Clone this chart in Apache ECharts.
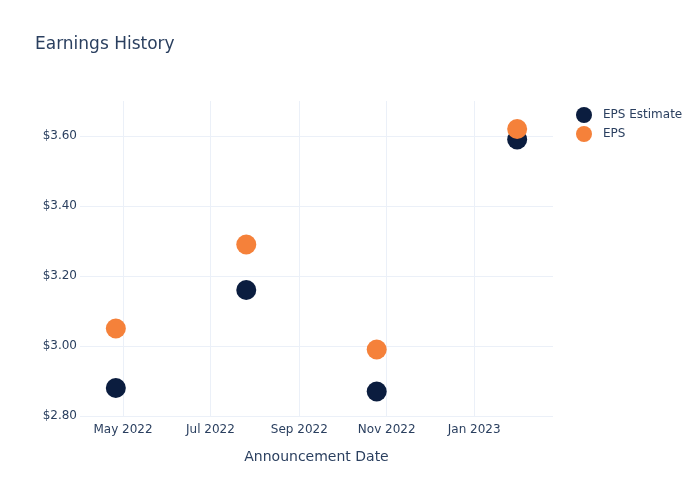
<!DOCTYPE html>
<html>
<head>
<meta charset="utf-8">
<script src="https://cdn.jsdelivr.net/npm/echarts@6/dist/echarts.min.js"></script>
<style>html,body{margin:0;padding:0;background:#fff}#c{width:700px;height:500px}</style>
</head>
<body>
<div id="c"></div>
<script>
const dates = ['2022-04-26', '2022-07-26', '2022-10-25', '2023-01-31'];
const epsEstimate = [2.88, 3.16, 2.87, 3.59];
const epsActual = [3.05, 3.29, 2.99, 3.62];
const xTickDates = ['2022-05-01', '2022-07-01', '2022-09-01', '2022-11-01', '2023-01-01'];
const yTicks = [2.8, 3.0, 3.2, 3.4, 3.6];
const monthNames = ['Jan','Feb','Mar','Apr','May','Jun','Jul','Aug','Sep','Oct','Nov','Dec'];

function ts(s) { const p = s.split('-').map(Number); return Date.UTC(p[0], p[1] - 1, p[2]); }
const xTicks = xTickDates.map(ts);
const font = 'DejaVu Sans, Verdana, sans-serif';
const txt = '#2a3f5f';
const grid = '#ebf0f8';

const chart = echarts.init(document.getElementById('c'), null, {renderer: 'canvas'});
chart.setOption({
  animation: false,
  backgroundColor: '#fff',
  textStyle: {fontFamily: font},
  title: {
    text: 'Earnings History', left: 30, top: 31,
    textStyle: {fontFamily: font, fontSize: 17, fontWeight: 'normal', color: txt}
  },
  legend: {
    orient: 'vertical', left: 571, top: 102, itemGap: 3,
    itemWidth: 28, itemHeight: 16, icon: 'circle',
    textStyle: {fontFamily: font, fontSize: 12, color: txt},
    data: ['EPS Estimate', 'EPS']
  },
  grid: {left: 80, right: 147, top: 101, bottom: 84, containLabel: false},
  xAxis: {
    type: 'value',
    min: ts('2022-04-01'), max: ts('2023-02-25'),
    name: 'Announcement Date', nameLocation: 'middle', nameGap: 34,
    nameTextStyle: {fontFamily: font, fontSize: 14, color: txt},
    axisLine: {show: false},
    axisTick: {show: false, customValues: xTicks},
    axisLabel: {
      customValues: xTicks, margin: 8, color: txt, fontSize: 12, fontFamily: font,
      formatter: function (v) { const d = new Date(v); return monthNames[d.getUTCMonth()] + ' ' + d.getUTCFullYear(); }
    },
    splitLine: {show: true, lineStyle: {color: grid, width: 1}}
  },
  yAxis: {
    type: 'value', min: 2.8, max: 3.7, interval: 0.2,
    axisLine: {show: false}, axisTick: {show: false},
    axisLabel: {
      margin: 3, color: txt, fontSize: 12, fontFamily: font, showMaxLabel: false,
      formatter: function (v) { return yTicks.some(t => Math.abs(t - v) < 1e-6) ? '$' + v.toFixed(2) : ''; }
    },
    splitLine: {show: true, showMaxLine: false, lineStyle: {color: grid, width: 1}}
  },
  series: [
    {
      name: 'EPS Estimate', type: 'scatter', symbolSize: 20,
      itemStyle: {color: '#0b1d3f', opacity: 1},
      data: dates.map((d, i) => [ts(d), epsEstimate[i]])
    },
    {
      name: 'EPS', type: 'scatter', symbolSize: 20,
      itemStyle: {color: '#f5813a', opacity: 1},
      data: dates.map((d, i) => [ts(d), epsActual[i]])
    }
  ]
});
</script>
</body>
</html>
